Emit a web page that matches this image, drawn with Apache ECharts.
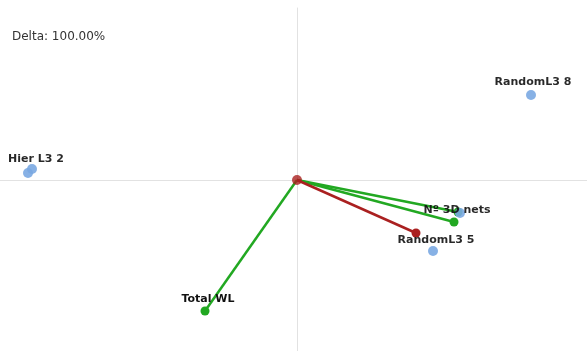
<!DOCTYPE html>
<html>
<head>
    <meta charset="UTF-8">
    <title>Biplot</title>
    <script src="https://cdn.jsdelivr.net/npm/echarts@6/dist/echarts.min.js"></script>
    <style>
        html, body { margin: 0; padding: 0; background: #fff; }
        #main { width: 587px; height: 351px; }
    </style>
</head>
<body>
<div id="main"></div>
<script type="text/javascript">

    // labelled points (blue)
    var pointNames = ['Hier L3 2', '', 'RandomL3 8', 'Nº 3D nets', 'RandomL3 5'];
    var pointX = [-2.69, -2.65, 2.34, 1.63, 1.36];
    var pointY = [0.07, 0.11, 0.85, -0.33, -0.71];

    // vectors from the origin
    var vectorNames = ['Total WL', 'Nº 3D nets', 'v3', 'v4'];
    var vectorX = [-0.92, 1.61, 1.57, 1.19];
    var vectorY = [-1.31, -0.32, -0.42, -0.53];
    var vectorLabels = ['Total WL', '', '', ''];
    var vectorColors = ['green', 'green', 'green', 'red'];

    var deltaText = 'Delta: 100.00%';

    var colorMap = { green: '#22a822', red: '#aa2020' };

    var myChart = echarts.init(document.getElementById('main'));

    var labelStyle = {
        show: true,
        position: 'top',
        distance: 3,
        color: '#111',
        fontSize: 11,
        fontWeight: 'bold',
        fontFamily: 'DejaVu Sans'
    };
    // per label nudges
    var pointOffsets = [[8, 0], [0, 0], [2, 1], [-3, 11], [3, 3]];

    var pointData = [];
    for (var i = 0; i < pointX.length; i++) {
        pointData.push({
            name: pointNames[i],
            value: [pointX[i], pointY[i]],
            label: { offset: pointOffsets[i] }
        });
    }

    var series = [];
    for (var j = 0; j < vectorX.length; j++) {
        series.push({
            name: vectorNames[j],
            type: 'line',
            data: [
                { value: [0, 0], symbolSize: 0 },
                {
                    value: [vectorX[j], vectorY[j]],
                    label: vectorLabels[j] ? Object.assign({}, labelStyle, { formatter: vectorLabels[j], offset: [3, 1] }) : { show: false }
                }
            ],
            symbol: 'circle',
            symbolSize: 9,
            showSymbol: true,
            lineStyle: { color: colorMap[vectorColors[j]], width: 2.5 },
            itemStyle: { color: colorMap[vectorColors[j]] },
            z: vectorColors[j] === 'red' ? 4 : 3,
            animation: false
        });
    }

    series.push({
        name: 'points',
        type: 'scatter',
        data: pointData,
        symbolSize: 10,
        itemStyle: { color: '#7aa9e2', opacity: 0.9 },
        label: Object.assign({}, labelStyle, { formatter: '{b}' }),
        z: 5
    });

    series.push({
        name: 'origin',
        type: 'scatter',
        data: [[0, 0]],
        symbolSize: 10,
        itemStyle: { color: colorMap.red },
        z: 6
    });

    var option = {
        animation: false,
        title: {
            text: deltaText,
            left: 12,
            top: 31,
            padding: 0,
            textStyle: { fontSize: 12, fontWeight: 'normal', color: '#333', fontFamily: 'DejaVu Sans' }
        },
        grid: { left: 0, right: 0, top: 8, bottom: 0 },
        xAxis: {
            type: 'value',
            min: -2.97,
            max: 2.90,
            axisLine: { onZero: true, lineStyle: { color: '#e2e2e2', width: 1 } },
            axisTick: { show: false },
            axisLabel: { show: false },
            splitLine: { show: false }
        },
        yAxis: {
            type: 'value',
            min: -1.71,
            max: 1.72,
            axisLine: { onZero: true, lineStyle: { color: '#e2e2e2', width: 1 } },
            axisTick: { show: false },
            axisLabel: { show: false },
            splitLine: { show: false }
        },
        series: series
    };

    myChart.setOption(option);
</script>
</body>
</html>
